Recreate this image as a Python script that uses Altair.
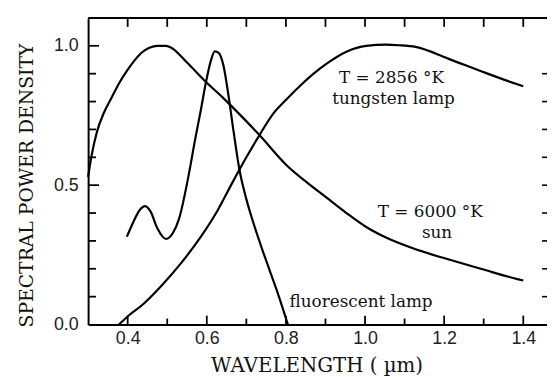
import altair as alt
import pandas as pd

# ---- data ----
sun_x = [0.300, 0.308, 0.322, 0.340, 0.358, 0.378, 0.398, 0.416, 0.435, 0.455, 0.475, 0.495, 0.508,
         0.548, 0.598, 0.640, 0.665, 0.733, 0.803, 0.853, 0.903, 0.953, 1.003, 1.053, 1.128, 1.210,
         1.295, 1.385, 1.400]
sun_y = [0.53, 0.60, 0.69, 0.76, 0.81, 0.865, 0.91, 0.945, 0.975, 0.993, 1.0, 1.0, 0.995,
         0.943, 0.870, 0.815, 0.78, 0.68, 0.57, 0.51, 0.455, 0.40, 0.35, 0.312, 0.27, 0.234,
         0.199, 0.163, 0.158]

tung_x = [0.378, 0.405, 0.436, 0.486, 0.536, 0.586, 0.628, 0.665, 0.700, 0.732, 0.770, 0.803,
          0.840, 0.870, 0.903, 0.953, 1.003, 1.053, 1.085, 1.128, 1.210, 1.295, 1.385, 1.400]
tung_y = [0.0, 0.035, 0.069, 0.14, 0.222, 0.317, 0.411, 0.51, 0.60, 0.677, 0.76, 0.81,
          0.862, 0.90, 0.936, 0.979, 1.0, 1.004, 1.002, 0.996, 0.954, 0.908, 0.862, 0.855]

fluo_x = [0.398, 0.415, 0.430, 0.444, 0.458, 0.475, 0.497, 0.515, 0.530, 0.552, 0.570, 0.585,
          0.598, 0.610, 0.620, 0.630, 0.642, 0.655, 0.668, 0.682, 0.700, 0.720, 0.740, 0.760,
          0.780, 0.805]
fluo_y = [0.315, 0.37, 0.41, 0.425, 0.405, 0.345, 0.307, 0.33, 0.38, 0.52, 0.66, 0.77,
          0.87, 0.945, 0.98, 0.975, 0.93, 0.82, 0.69, 0.56, 0.45, 0.355, 0.27, 0.19,
          0.11, 0.0]

x_tick_labels = [0.4, 0.6, 0.8, 1.0, 1.2, 1.4]
x_minor_ticks = [0.5, 0.7, 0.9, 1.1, 1.3]
y_tick_labels = [0.0, 0.5, 1.0]
y_major_ticks = [0.5, 1.0]
y_minor_ticks = [0.1, 0.2, 0.3, 0.4, 0.6, 0.7, 0.8, 0.9]
top_ticks = [0.4, 0.5, 0.6, 0.7, 0.8, 0.9, 1.0, 1.1, 1.2, 1.3, 1.4]
right_ticks = [0.1, 0.2, 0.3, 0.4, 0.5, 0.6, 0.7, 0.8, 0.9]

ann_text = ["T = 2856 °K", "tungsten lamp", "T = 6000 °K", "sun", "fluorescent lamp"]
ann_x = [1.067, 1.072, 1.165, 1.182, 0.99]
ann_y = [0.866, 0.792, 0.387, 0.312, 0.064]

W, H = 464, 310
XDOM = [0.3, 1.46]
YDOM = [0.0, 1.1]

frames = []
for name, xs, ys in [("sun", sun_x, sun_y), ("tungsten", tung_x, tung_y), ("fluorescent", fluo_x, fluo_y)]:
    frames.append(pd.DataFrame({"series": name, "x": xs, "y": ys}))
lines_df = pd.concat(frames, ignore_index=True)

xs = alt.Scale(domain=XDOM, nice=False, zero=False)
ys = alt.Scale(domain=YDOM, nice=False, zero=False)

x_axis = alt.Axis(values=x_tick_labels, format=".1f", tickSize=0, grid=False,
                  domainColor="black", domainWidth=2,
                  labelFont="Liberation Sans", labelFontSize=18, labelColor="#222",
                  labelPadding=5, labelFlush=False,
                  title="WAVELENGTH ( µm)", titleFont="DejaVu Serif", titleFontSize=20,
                  titleFontWeight="normal", titleColor="#111",
                  titleX=231, titleY=47, titleBaseline="alphabetic", titleAnchor="middle")
y_axis = alt.Axis(values=y_tick_labels, format=".1f", tickSize=0, grid=False,
                  domainColor="black", domainWidth=2,
                  labelFont="Liberation Sans", labelFontSize=18, labelColor="#222",
                  labelPadding=10, labelFlush=False,
                  title="SPECTRAL POWER DENSITY", titleFont="DejaVu Serif", titleFontSize=19,
                  titleFontWeight="normal", titleColor="#111", titleAngle=270,
                  titleX=-56, titleY=169, titleBaseline="alphabetic", titleAnchor="middle")

lines = alt.Chart(lines_df).mark_line(color="black", strokeWidth=2.2, interpolate="monotone").encode(
    x=alt.X("x:Q", scale=xs, axis=x_axis),
    y=alt.Y("y:Q", scale=ys, axis=y_axis),
    detail="series:N",
)

top_frame = alt.Chart(pd.DataFrame({"y": [YDOM[1]]})).mark_rule(color="black", strokeWidth=2).encode(
    y=alt.Y("y:Q", scale=ys)
)

def vticks(vals, y1, y2, sw=1.8):
    return alt.Chart(pd.DataFrame({"x": vals})).mark_rule(color="black", strokeWidth=sw).encode(
        x=alt.X("x:Q", scale=xs), y=alt.value(y1), y2=alt.value(y2))

def hticks(vals, x1, x2, sw=1.8):
    return alt.Chart(pd.DataFrame({"y": vals})).mark_rule(color="black", strokeWidth=sw).encode(
        y=alt.Y("y:Q", scale=ys), x=alt.value(x1), x2=alt.value(x2))

ticks = [
    vticks(x_tick_labels, H, H - 9),
    vticks(x_minor_ticks, H, H - 6),
    vticks(top_ticks, 0, 9),
    hticks(y_major_ticks, 0, 11),
    hticks(y_minor_ticks, 0, 8),
    hticks(right_ticks, W - 5, W, 1.6),
]

ann_df = pd.DataFrame({"text": ann_text, "x": ann_x, "y": ann_y})
ann = alt.Chart(ann_df).mark_text(font="DejaVu Serif", fontSize=17, color="#111",
                                   align="center", baseline="alphabetic").encode(
    x=alt.X("x:Q", scale=xs), y=alt.Y("y:Q", scale=ys), text="text:N")

chart = alt.layer(lines, top_frame, *ticks, ann).properties(
    width=W, height=H,
    padding={"left": 81, "top": 8, "right": 0, "bottom": 51},
    autosize=alt.AutoSizeParams(type="none"),
    background="white",
).configure_view(stroke=None)

chart.save("out.html", embed_options={"renderer": "svg", "actions": False})
